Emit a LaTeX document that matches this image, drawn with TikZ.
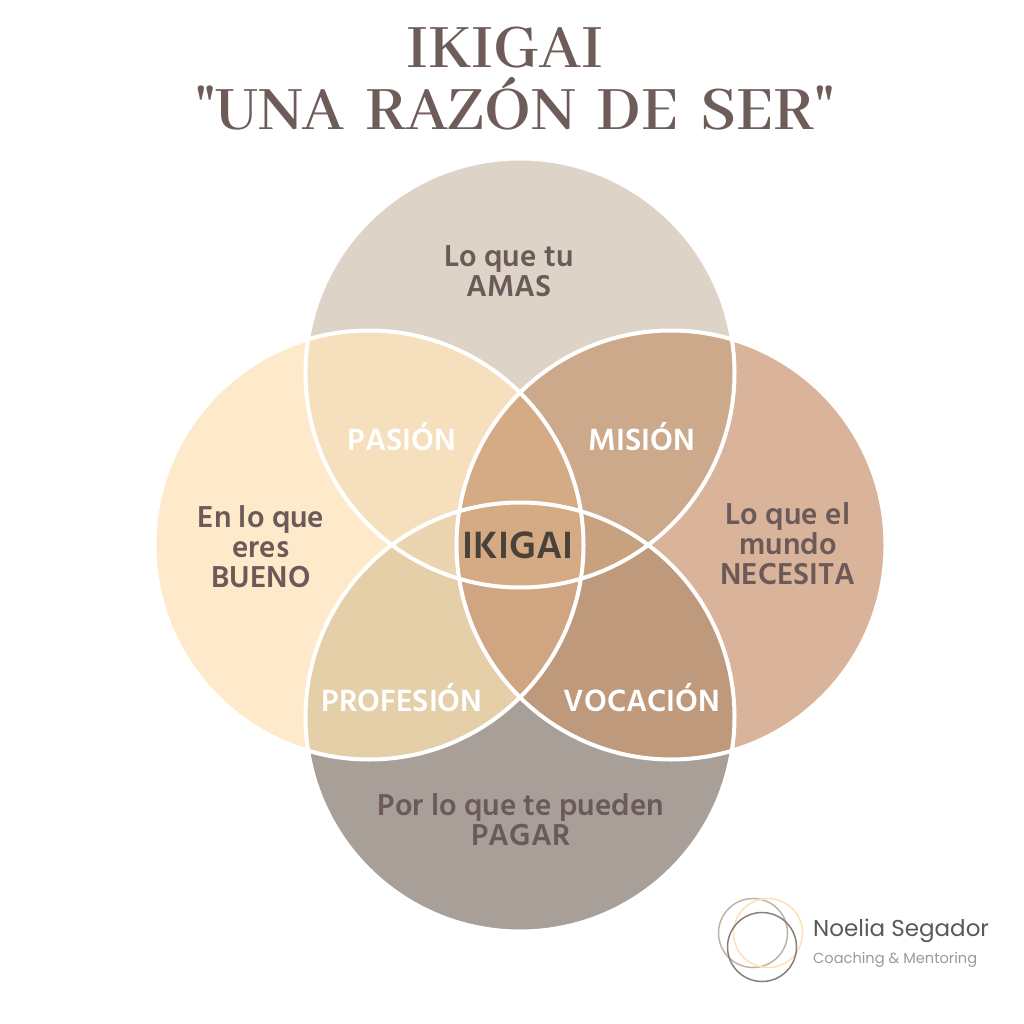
\documentclass[tikz,border=0pt]{standalone}
\usepackage{fontspec}
\setmainfont{Hind Siliguri}
\newfontfamily\titlefont[WordSpace=1.65]{Abhaya Libre}
\newfontfamily\logofont{Poppins}
\usepackage{tikz}
\usetikzlibrary{positioning}
\definecolor{mytitle}{RGB}{110,92,89}
\definecolor{mytext}{RGB}{107,90,88}
\definecolor{mycentre}{RGB}{74,66,56}
\definecolor{mytop}{RGB}{221,211,199}
\definecolor{myleft}{RGB}{254,234,203}
\definecolor{myright}{RGB}{217,180,154}
\definecolor{mybottom}{RGB}{168,159,152}
\definecolor{mypasion}{RGB}{245,223,188}
\definecolor{mymision}{RGB}{205,169,139}
\definecolor{myprofesion}{RGB}{229,207,169}
\definecolor{myvocacion}{RGB}{190,153,123}
\definecolor{mylensup}{RGB}{212,171,133}
\definecolor{mylensdown}{RGB}{208,165,130}
\definecolor{mylensleft}{RGB}{235,213,176}
\definecolor{mylensright}{RGB}{200,161,127}
\tikzstyle{ring}=[draw=white,line width=4pt]
\tikzstyle{titleline}=[text=mytitle,font=\titlefont\bfseries\fontsize{68}{70}\selectfont,anchor=base,inner sep=0pt]
\tikzstyle{zonetext}=[text=mytext,font=\bfseries\fontsize{31}{30}\selectfont,align=center,inner sep=0pt]
\tikzstyle{overlap}=[text=white,font=\bfseries\fontsize{31.5}{32}\selectfont,anchor=base,inner sep=0pt]
\begin{document}
\begin{tikzpicture}[x=1pt,y=-1pt]
\useasboundingbox (0,0) rectangle (1024,1024);
\coordinate (ctop) at (520,373);
\coordinate (cleft) at (369,545);
\coordinate (cright) at (671,545);
\coordinate (cbottom) at (520,717);
% plain circles
\fill[mytop] (ctop) circle (214.5);
\fill[mybottom] (cbottom) circle (214.5);
\fill[myleft] (cleft) circle (214.5);
\fill[myright] (cright) circle (214.5);
% two circles
\begin{scope}
\clip (ctop) circle (214.5);
\fill[mypasion] (cleft) circle (214.5);
\fill[mymision] (cright) circle (214.5);
\end{scope}
\begin{scope}
\clip (cbottom) circle (214.5);
\fill[myprofesion] (cleft) circle (214.5);
\fill[myvocacion] (cright) circle (214.5);
\end{scope}
% three circles
\begin{scope}
\clip (cleft) circle (214.5);
\fill[mylensup] (cright) circle (214.5);
\end{scope}
\begin{scope}
\clip (cleft) circle (214.5);
\clip (cright) circle (214.5);
\fill[mylensdown] (cbottom) circle (214.5);
\end{scope}
\begin{scope}
\clip (ctop) circle (214.5);
\clip (cbottom) circle (214.5);
\fill[mylensleft] (cleft) circle (214.5);
\fill[mylensright] (cright) circle (214.5);
\end{scope}
% four circles
\begin{scope}
\clip (ctop) circle (214.5);
\clip (cbottom) circle (214.5);
\clip (cleft) circle (214.5);
\fill[mylensup] (cright) circle (214.5);
\end{scope}
\draw[ring] (ctop) circle (214.5);
\draw[ring] (cbottom) circle (214.5);
\draw[ring] (cleft) circle (214.5);
\draw[ring] (cright) circle (214.5);
% title
\draw (505,68) node [titleline] (title1) {IKIGAI};
\draw (515,130) node [titleline] (title2) {"UNA RAZÓN DE SER"};
% zones
\draw (509,271) node [zonetext] (amas) {Lo que tu\\AMAS};
\draw (261,547) node [zonetext] (bueno) {En lo que\\eres\\BUENO};
\draw (788,544) node [zonetext] (necesita) {Lo que el\\mundo\\NECESITA};
\draw (521,820) node [zonetext] (pagar) {Por lo que te pueden\\PAGAR};
\draw (402,450) node [overlap] (pasion) {PASIÓN};
\draw (642,450) node [overlap] (mision) {MISIÓN};
\draw (402,711) node [overlap] (profesion) {PROFESIÓN};
\draw (642,711) node [overlap] (vocacion) {VOCACIÓN};
\draw (518,558) node [overlap,text=mycentre,font=\bfseries\fontsize{39}{41}\selectfont] (ikigai) {IKIGAI};
% logo
\draw[draw=mytop!85!black,line width=1.5pt] (753,933) circle (34.5);
\draw[draw=myleft!90!orange,line width=1.5pt] (768,933) circle (34.5);
\draw[draw=mybottom!80!black,line width=1.5pt] (762,947) circle (34.5);
\draw (813,936) node [anchor=base west,inner sep=0pt,text=black!65,font=\logofont\fontsize{23}{25}\selectfont] (logoname) {Noelia Segador};
\draw (813,963) node [anchor=base west,inner sep=0pt,text=black!40,font=\logofont\fontsize{14.6}{17}\selectfont] (logosub) {Coaching \& Mentoring};
\end{tikzpicture}
\end{document}
